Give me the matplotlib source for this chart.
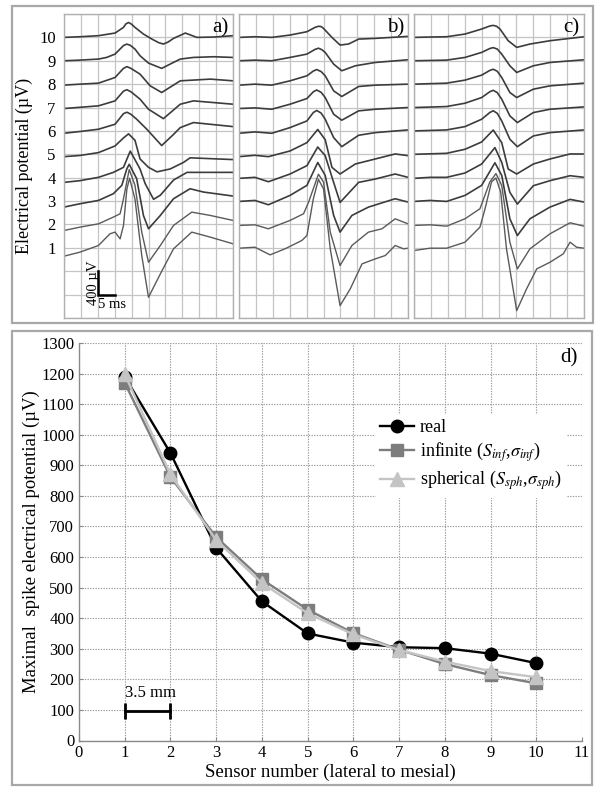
import matplotlib
matplotlib.use("Agg")
import matplotlib.pyplot as plt
from matplotlib.patches import Rectangle

plt.rcParams['font.family'] = ['Liberation Serif', 'DejaVu Serif']
plt.rcParams['mathtext.fontset'] = 'stix'

# ---------------- data: traces (time in ms, potential in uV, relative to sensor baseline) -------------
sensors = [1, 2, 3, 4, 5, 6, 7, 8, 9, 10]
uV_per_row = 400.0

traces_a = {
    1: [(0, -143), (4.7, -74), (10.2, 40), (13.6, 240), (15.1, 269), (16.6, 154), (17.6, 383), (18.6, 1006),
        (19.4, 1190), (21.0, 834), (23.0, -131), (25.0, -846), (28.5, -446), (32.4, -17), (37.8, 269),
        (43.3, 183), (50, 69)],
    2: [(0, -103), (4.7, -46), (10.2, 11), (14.6, 126), (16.6, 183), (17.6, 440), (19.3, 940), (21.0, 669),
        (23.0, -131), (25.0, -646), (28.5, -360), (32.4, -17), (37.8, 211), (43.3, 154), (50, 69)],
    3: [(0, -103), (4.7, -46), (10.2, 11), (14.6, 126), (17.1, 269), (18.6, 554), (19.3, 629), (21.5, 383),
        (23.5, -246), (25.0, -474), (28.5, -246), (32.4, 40), (37.3, 211), (41.3, 154), (50, 86)],
    4: [(0, -80), (4.7, -51), (10.2, 6), (14.6, 91), (17.6, 177), (19.6, 455), (22.5, 149), (24.0, -100),
        (26.5, -370), (28.5, -300), (32.4, -40), (36.4, 91), (43.3, 91), (50, 91)],
    5: [(0, -40), (4.7, -20), (10.2, 29), (15.1, 143), (17.6, 280), (19.1, 350), (21.0, 240), (22.5, -80),
        (25.0, -223), (27.5, -300), (31.4, -251), (35.4, -137), (37.3, -60), (50, -90)],
    6: [(0, -40), (4.7, -10), (10.2, 29), (15.1, 114), (17.6, 295), (18.6, 320), (19.8, 285), (21.5, 200),
        (24.5, 29), (28.9, -250), (32.4, -60), (34.4, 57), (38.3, 143), (50, 74)],
    7: [(0, -17), (10.2, 29), (15.1, 114), (17.6, 280), (18.6, 305), (19.8, 270), (22.5, 143), (25.0, -29),
        (29.4, -190), (34.4, 57), (38.3, 114), (50, 57)],
    8: [(0, -17), (4.7, 0), (10.2, 17), (15.1, 114), (17.6, 270), (18.6, 300), (19.8, 270), (22.5, 171),
        (25.5, -29), (28.9, -143), (34.4, 57), (43.3, 86), (50, 57)],
    9: [(0, 0), (4.7, 11), (10.2, 29), (12.6, 57), (15.1, 114), (17.6, 260), (18.6, 285), (19.6, 265),
        (21.0, 200), (22.5, 86), (25.0, -40), (28.9, -130), (31.4, -57), (34.4, 29), (38.3, 57), (44.3, 69),
        (50, 57)],
    10: [(0, 0), (4.7, 11), (10.2, 29), (15.1, 74), (17.6, 171), (18.3, 230), (19.1, 255), (20.0, 225),
         (21.0, 171), (23.5, 57), (26.0, -29), (28.0, -90), (29.4, -114), (30.8, -80), (32.4, -17),
         (35.9, 74), (39.3, 0), (44.3, 6), (50, 29)],
}

traces_b = {
    1: [(0, -6), (4.7, 11), (9.2, -120), (13.6, -17), (18.6, 126), (20.1, 211), (22.0, 840), (23.5, 1170),
        (25.0, 1011), (27.0, -17), (29.9, -989), (32.9, -703), (36.4, -274), (40.3, -189), (43.3, -131),
        (46.2, 40), (48.7, -17), (50, -6)],
    2: [(0, -17), (4.7, -6), (8.7, -74), (15.1, 69), (19.1, 183), (20.6, 383), (23.5, 860), (25.0, 726),
        (27.0, -131), (29.9, -703), (33.4, -360), (38.3, -131), (42.3, -74), (46.2, 97), (50, 11)],
    3: [(0, -6), (4.7, 11), (8.7, -63), (15.1, 97), (20.1, 269), (23.3, 660), (25.5, 440), (28.0, -246),
        (29.9, -531), (33.4, -246), (38.3, -103), (46.2, 40), (50, -17)],
    4: [(0, -11), (4.7, 6), (8.7, -69), (15.1, 63), (20.1, 206), (23.3, 525), (25.5, 377), (28.0, -80),
        (29.9, -423), (35.4, -80), (40.3, -23), (46.2, 63), (50, 6)],
    5: [(0, -40), (4.7, -17), (8.7, -40), (15.1, 57), (20.1, 200), (23.3, 425), (25.5, 250), (27.5, -223),
        (29.9, -337), (34.4, -166), (40.3, -80), (46.2, 6), (50, -23)],
    6: [(0, -40), (4.7, -17), (9.7, -40), (15.1, 57), (20.1, 171), (22.0, 315), (23.0, 350), (24.3, 305),
        (25.5, 200), (28.0, -114), (30.4, -269), (35.4, -74), (40.3, -29), (50, 17)],
    7: [(0, -17), (4.7, -6), (9.7, -29), (15.1, 57), (20.1, 154), (22.0, 270), (23.0, 300), (24.3, 260),
        (25.5, 171), (28.0, -114), (30.4, -217), (35.4, -57), (40.3, -29), (50, 0)],
    8: [(0, -17), (4.7, 0), (9.7, -17), (15.1, 57), (20.1, 143), (22.0, 225), (23.0, 250), (24.3, 215),
        (25.5, 143), (28.0, -114), (30.4, -211), (35.4, -40), (40.3, -17), (50, 0)],
    9: [(0, 0), (4.7, 11), (9.7, 0), (15.1, 57), (20.1, 114), (22.5, 195), (23.5, 215), (24.5, 190),
        (25.5, 143), (28.0, -57), (30.4, -171), (34.4, -86), (40.3, -29), (50, 17)],
    10: [(0, 0), (4.7, 11), (9.7, 0), (15.1, 40), (20.1, 97), (22.5, 171), (23.5, 190), (24.3, 185),
         (25.0, 154), (27.5, 0), (29.9, -131), (32.4, -114), (35.4, -29), (40.3, -17), (50, 17)],
}

traces_c = {
    1: [(0, -46), (4.7, -6), (9.6, -6), (15.0, 97), (19.4, 354), (20.9, 669), (22.8, 1126), (24.1, 1195),
        (25.5, 954), (27.2, -17), (30.2, -1074), (33.1, -703), (36.1, -360), (40.0, -246), (43.9, -103),
        (45.9, 97), (47.8, 11), (50, -6)],
    2: [(0, -17), (4.7, -6), (9.6, -29), (15.0, 97), (19.4, 269), (22.3, 726), (24.1, 870), (25.8, 669),
        (28.2, -303), (30.4, -760), (34.1, -417), (40.0, -160), (45.9, 29), (50, -29)],
    3: [(0, -6), (4.7, 11), (9.6, -6), (15.0, 97), (19.9, 269), (23.8, 655), (25.8, 440), (28.2, -303),
        (30.4, -589), (34.1, -303), (40.0, -103), (45.9, 29), (50, -17)],
    4: [(0, -11), (4.7, 6), (9.6, 6), (15.0, 80), (19.9, 234), (23.8, 515), (25.8, 263), (28.2, -251),
        (30.4, -451), (35.1, -137), (40.0, -51), (45.9, 34), (50, 6)],
    5: [(0, 0), (9.6, 17), (15.0, 86), (19.9, 211), (23.3, 415), (25.8, 200), (27.7, -251), (30.2, -337),
        (35.1, -166), (40.0, -80), (45.9, 6), (50, 6)],
    6: [(0, 0), (9.6, 17), (15.0, 74), (19.9, 200), (22.3, 315), (23.3, 345), (24.5, 300), (25.8, 171),
        (28.2, -143), (30.4, -269), (35.1, -86), (40.0, -29), (50, 17)],
    7: [(0, 0), (9.6, 17), (15.0, 74), (19.9, 171), (22.3, 270), (23.3, 295), (24.5, 255), (25.8, 143),
        (28.2, -143), (30.4, -257), (35.1, -86), (40.0, -29), (50, 11)],
    8: [(0, 0), (9.6, 17), (15.0, 69), (19.9, 154), (22.3, 235), (23.3, 255), (24.5, 220), (25.8, 114),
        (28.2, -143), (30.2, -229), (35.1, -86), (40.0, -29), (50, 17)],
    9: [(0, 0), (9.6, 11), (15.0, 57), (19.9, 143), (22.3, 210), (23.3, 225), (24.5, 200), (25.8, 114),
        (28.2, -86), (30.2, -200), (35.1, -86), (40.0, -29), (50, 17)],
    10: [(0, 0), (4.7, 6), (9.6, 11), (15.0, 57), (19.9, 143), (22.3, 195), (23.3, 205), (24.3, 190),
         (25.3, 143), (27.7, -57), (30.2, -171), (34.1, -114), (40.0, -57), (50, 11)],
}

# ---------------- data: panel d -------------
sensor_number = [1, 2, 3, 4, 5, 6, 7, 8, 9, 10]
real = [1190, 940, 630, 455, 350, 320, 305, 302, 284, 253]
infinite = [1170, 862, 665, 527, 428, 351, 297, 250, 214, 187]
spherical = [1198, 870, 655, 515, 416, 347, 296, 258, 227, 207]

# ---------------- figure -------------
W, H = 600, 792
fig = plt.figure(figsize=(W / 100, H / 100), dpi=100)


def fx(px):
    return px / W


def fy(py):
    return 1 - py / H


# outer frames
fig.patches.append(Rectangle((fx(12), fy(323)), fx(581), (323 - 6) / H, transform=fig.transFigure,
                             fill=False, edgecolor='#a8a8a8', lw=1.6))
fig.patches.append(Rectangle((fx(12), fy(785)), fx(580), (785 - 331) / H, transform=fig.transFigure,
                             fill=False, edgecolor='#a8a8a8', lw=1.6))

panel_px = [(64, 233), (239, 408), (414, 584)]
panels = [traces_a, traces_b, traces_c]
letters = ['a)', 'b)', 'c)']
grid_col = '#c4c4c4'

for i, ((x0, x1), tr, let) in enumerate(zip(panel_px, panels, letters)):
    ax = fig.add_axes([fx(x0), fy(318), fx(x1 - x0), (318 - 14) / H])
    ax.set_xlim(0, 50)
    ax.set_ylim(-2, 11)
    ax.set_xticks(range(0, 51, 5))
    ax.set_yticks(range(-2, 12))
    ax.grid(True, color=grid_col, lw=0.9)
    ax.set_axisbelow(True)
    ax.tick_params(length=0, labelbottom=False)
    for s in ax.spines.values():
        s.set_color('#b0b0b0')
        s.set_linewidth(1.0)
    if i == 0:
        ax.set_yticklabels([str(v) if 1 <= v <= 10 else '' for v in range(-2, 12)], fontsize=12)
        ax.tick_params(axis='y', pad=6)
        ax.set_ylabel('Electrical potential (µV)', fontsize=13, labelpad=4)
    else:
        ax.set_yticklabels([])
    for s in sensors:
        pts = tr[s]
        t = [p[0] for p in pts]
        v = [s + p[1] / uV_per_row for p in pts]
        ax.plot(t, v, color='#3c3c3c' if s > 2 else '#5a5a5a', lw=1.2 if s > 2 else 1.0,
                solid_joinstyle='round', solid_capstyle='round')
    ax.text(0.975, 0.985, let, transform=ax.transAxes, ha='right', va='top', fontsize=15)
    if i == 0:
        ax.plot([10, 10, 15], [0, -1, -1], color='black', lw=1.8, solid_joinstyle='miter')
        ax.text(8.6, -0.5, '400 µV', rotation=90, ha='center', va='center', fontsize=10.5)
        ax.text(10.2, -1.15, '5 ms', ha='left', va='top', fontsize=10.5)

# ---------------- panel d -------------
axd = fig.add_axes([fx(79), fy(740.5), fx(582 - 79), (740.5 - 343) / H])
axd.set_xlim(0, 11)
axd.set_ylim(0, 1300)
axd.set_xticks(range(0, 12))
axd.set_yticks(range(0, 1301, 100))
axd.grid(True, color='#9a9a9a', lw=0.8, linestyle=(0, (1.2, 1.2)))
axd.set_axisbelow(True)
axd.tick_params(labelsize=12, length=3, direction='in', color='#888888')
for side in ['top', 'right']:
    axd.spines[side].set_visible(False)
for side in ['left', 'bottom']:
    axd.spines[side].set_color('#8a8a8a')
    axd.spines[side].set_linewidth(1.0)

axd.plot(sensor_number, real, color='black', lw=1.7, marker='o', ms=9, label='real', zorder=3)
axd.plot(sensor_number, infinite, color='#7d7d7d', lw=1.7, marker='s', ms=8.5,
         label=r'infinite ($S_{inf}$,$\sigma_{inf}$)', zorder=4)
axd.plot(sensor_number, spherical, color='#c4c4c4', lw=1.7, marker='^', ms=9.5,
         label=r'spherical ($S_{sph}$,$\sigma_{sph}$)', zorder=5)

leg = axd.legend(loc='upper left', bbox_to_anchor=(0.57, 0.845), fontsize=13, frameon=True,
                 framealpha=1, edgecolor='none', facecolor='white', handlelength=1.9,
                 handletextpad=0.3, labelspacing=0.25, borderpad=0.3)

axd.plot([1, 2], [97, 97], color='black', lw=2, marker='|', ms=12, mew=2, zorder=6)
axd.text(1.0, 130, '3.5 mm', ha='left', va='bottom', fontsize=12)
axd.text(0.992, 0.988, 'd)', transform=axd.transAxes, ha='right', va='top', fontsize=15)

axd.set_xlabel('Sensor number (lateral to mesial)', fontsize=13.5, labelpad=2)
axd.set_ylabel('Maximal  spike electrical potential (µV)', fontsize=13.5, labelpad=1)

fig.savefig('out.png', dpi=100)
